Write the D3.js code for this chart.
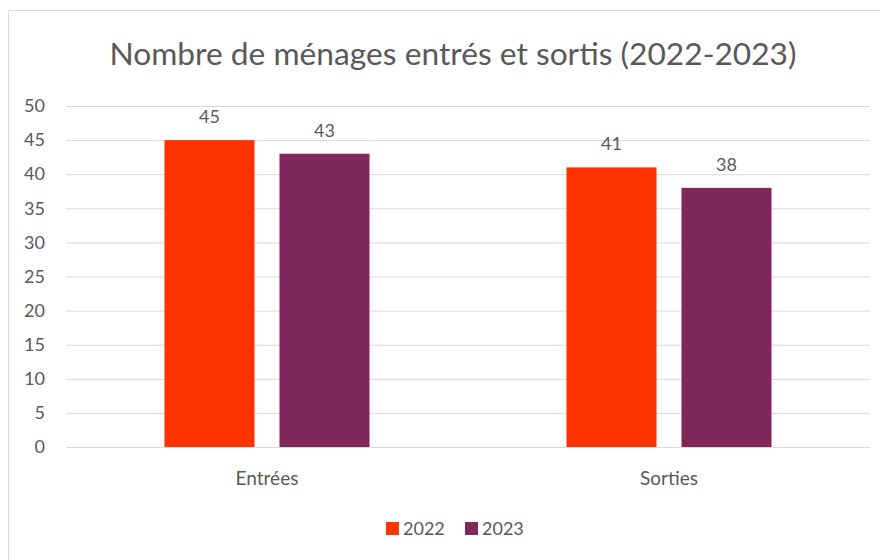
<!DOCTYPE html>
<html><head><meta charset="utf-8">
<script src="https://cdn.jsdelivr.net/npm/d3@7"></script>
<style>body{margin:0;background:#fff}svg{display:block}text{font-family:Lato,"Open Sans",sans-serif}</style>
</head><body><svg id="c" width="880" height="560"></svg>
<script>
const categories = ["Entrées", "Sorties"];
const series = ["2022", "2023"];
const values2022 = [45, 41];
const values2023 = [43, 38];
const yTicks = [0, 5, 10, 15, 20, 25, 30, 35, 40, 45, 50];
const colors = ["#FF3300", "#80285A"];
const title = "Nombre de ménages entrés et sortis (2022-2023)";

const seriesValues = [values2022, values2023];
const svg = d3.select("#c");
// chart frame
svg.append("path").attr("d", "M8.5,560 V10.5 H880").attr("fill", "none").attr("stroke", "#d9d9d9");

const x0 = d3.scaleBand().domain(categories).range([66, 870]).paddingInner(0.49).paddingOuter(0.245);
const x1 = d3.scaleBand().domain(series).range([0, x0.bandwidth()]).paddingInner(0.217);
const y = d3.scaleLinear().domain([0, 50]).range([447, 106]);

svg.append("text").attr("x", 453).attr("y", 65).attr("text-anchor", "middle")
  .attr("font-size", 31).attr("fill", "#595959").attr("textLength", 687).attr("lengthAdjust", "spacingAndGlyphs")
  .text(title);

const yAxis = svg.append("g").attr("transform", "translate(66,0)")
  .call(d3.axisLeft(y).tickValues(yTicks).tickSize(-804).tickPadding(21));
yAxis.select(".domain").remove();
yAxis.selectAll(".tick line").attr("stroke", "#d9d9d9");
yAxis.selectAll(".tick text").attr("fill", "#595959").attr("font-size", 18).attr("font-family", "Lato, sans-serif");

const xAxis = svg.append("g").attr("transform", "translate(0,447)")
  .call(d3.axisBottom(x0).tickSize(0));
xAxis.select(".domain").attr("stroke", "#d9d9d9");
xAxis.selectAll(".tick text").attr("y", 38).attr("dy", null).attr("fill", "#595959")
  .attr("font-size", 19).attr("font-family", "Lato, sans-serif");

const groups = svg.append("g").selectAll("g").data(categories).join("g")
  .attr("transform", d => `translate(${x0(d)},0)`);
groups.each(function(cat, ci) {
  const g = d3.select(this);
  series.forEach((s, si) => {
    const v = seriesValues[si][ci];
    g.append("rect").attr("x", x1(s)).attr("width", x1.bandwidth())
      .attr("y", y(v)).attr("height", y(0) - y(v)).attr("fill", colors[si]);
    g.append("text").attr("x", x1(s) + x1.bandwidth() / 2).attr("y", y(v) - 17)
      .attr("text-anchor", "middle").attr("font-size", 18).attr("fill", "#595959").text(v);
  });
});

const legend = svg.append("g");
const lx = [386, 465];
series.forEach((s, i) => {
  legend.append("rect").attr("x", lx[i]).attr("y", 522).attr("width", 13).attr("height", 13).attr("fill", colors[i]);
  legend.append("text").attr("x", lx[i] + 17).attr("y", 535).attr("font-size", 18).attr("fill", "#595959").text(s);
});
</script></body></html>
